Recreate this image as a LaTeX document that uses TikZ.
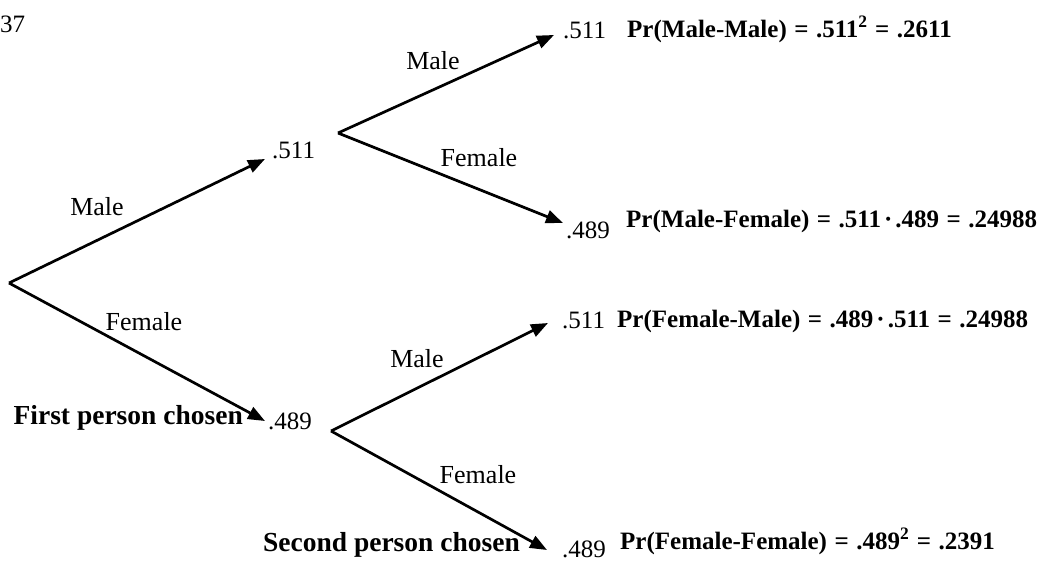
\documentclass[tikz,border=0pt]{standalone}
\usepackage{fontspec}
\setmainfont{Liberation Serif}
\usetikzlibrary{arrows.meta}
% spaced equals sign and product dot for the joint probabilities
\newcommand{\eqs}{\hspace{0.3em}=\hspace{0.3em}}
\newcommand{\tms}{\hspace{0.12em}·\hspace{0.12em}}
\begin{document}
\begin{tikzpicture}[x=1pt,y=-1pt,
  branch/.style={line width=2.7pt, -{Triangle[length=17pt,width=13pt]}},
  prob/.style={anchor=base west, inner sep=0pt, font=\fontsize{25}{29}\selectfont},
  lab/.style={inner sep=0pt, font=\fontsize{26}{30}\selectfont},
  res/.style={anchor=base west, inner sep=0pt, font=\fontsize{25}{29}\selectfont\bfseries},
  stage/.style={anchor=base east, inner sep=0pt, font=\fontsize{27.5}{31}\selectfont\bfseries}]
\useasboundingbox (0,0) rectangle (1041,562);

% page number fragment
\node[anchor=base west, inner sep=0pt, font=\fontsize{25}{29}\selectfont] (pg) at (0,32) {37};

% branching points and arrow ends
\coordinate (root) at (9,283);
\coordinate (m1) at (265,159);
\coordinate (f1) at (265,421);
\coordinate (mfork) at (338,133);
\coordinate (mm) at (554,35);
\coordinate (mf) at (563,223);
\coordinate (ffork) at (331,431);
\coordinate (fm) at (548,323);
\coordinate (ff) at (547,550);

% first choice
\draw[branch] (root) -- (m1);
\draw[branch] (root) -- (f1);
% second choice after a male
\draw[branch] (mfork) -- (mm);
\draw[branch] (mfork) -- (mf);
% second choice after a female
\draw[branch] (ffork) -- (fm);
\draw[branch] (ffork) -- (ff);

% branch labels
\node[lab] (lm1) at (97,207) {Male};
\node[lab] (lf1) at (144,322) {Female};
\node[lab] (lmm) at (433,61) {Male};
\node[lab] (lmf) at (479,158) {Female};
\node[lab] (lfm) at (417,359) {Male};
\node[lab] (lff) at (478,475) {Female};

% probabilities at the ends of the branches
\node[prob] (p1) at (272,158) {.511};
\node[prob] (p2) at (268,429) {.489};
\node[prob] (p3) at (563,38) {.511};
\node[prob] (p4) at (566,238) {.489};
\node[prob] (p5) at (562,328) {.511};
\node[prob] (p6) at (562,557) {.489};

% joint probabilities
\node[res] (r1) at (627,37) {Pr(Male-Male)\eqs.511\textsuperscript{2}\eqs.2611};
\node[res] (r2) at (626,227) {Pr(Male-Female)\eqs.511\tms.489\eqs.24988};
\node[res] (r3) at (617,327) {Pr(Female-Male)\eqs.489\tms.511\eqs.24988};
\node[res] (r4) at (620,549) {Pr(Female-Female)\eqs.489\textsuperscript{2}\eqs.2391};

% stage captions
\node[stage] (s1) at (243,424) {First person chosen};
\node[stage] (s2) at (520,551) {Second person chosen};
\end{tikzpicture}
\end{document}
